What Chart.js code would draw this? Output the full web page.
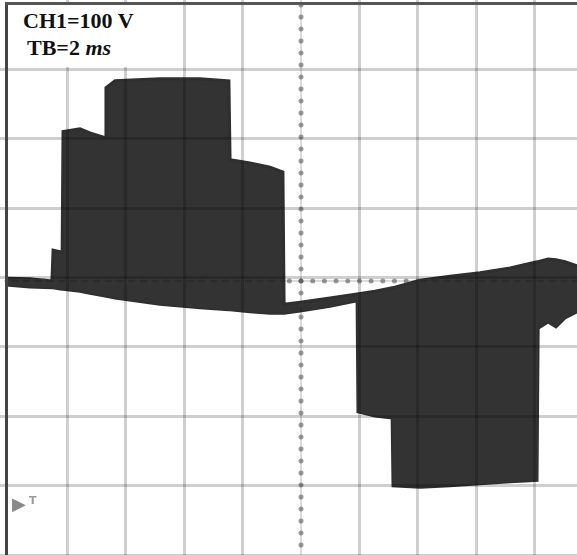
<!DOCTYPE html>
<html>
<head>
<meta charset="utf-8">
<script src="https://cdn.jsdelivr.net/npm/chart.js@4.4.1/dist/chart.umd.min.js"></script>
<style>
  html, body { margin: 0; padding: 0; background: #fff; }
  #wrap { position: relative; width: 577px; height: 555px; overflow: hidden; }
  #frameL { position: absolute; left: 5px; top: 2px; width: 3px; height: 553px; background: #444; }
  #frameT { position: absolute; left: 5px; top: 2px; width: 572px; height: 3px; background: #555; }
  #label { position: absolute; left: 8px; top: 5px; width: 163px; height: 62px; background: #fff; }
  .txt { position: absolute; font-family: "Liberation Serif", "Times New Roman", serif; font-weight: bold; font-size: 22px; line-height: 22px; color: #111; white-space: pre; }
  .gnd { position: absolute; left: 12px; top: 493px; font-family: "DejaVu Sans", sans-serif; font-size: 18px; color: #8a8a8a; }
  .gndT { position: absolute; left: 29px; top: 494px; font-family: "DejaVu Sans", sans-serif; font-weight: bold; font-size: 11px; color: #9a9a9a; }
</style>
</head>
<body>
<div id="wrap">
  <canvas id="scope"></canvas>
  <div id="label"></div>
  <div class="txt" style="left:23px; top:10px;">CH1=100 V</div>
  <div class="txt" style="left:27px; top:37px;">TB=2 <i>ms</i></div>
  <span class="gnd">▶</span><span class="gndT">T</span>
  <div id="frameL"></div>
  <div id="frameT"></div>
</div>
<script>
/* scope settings */
var msPerDiv = 2;
var voltsPerDiv = 100;

/* time of each sample (ms) and the top / bottom edge of the trace (V) */
var timeMs = [-0.10, 0.72, 1.47, 1.51, 1.82, 1.85, 2.43, 2.77, 3.29, 3.32, 3.63, 5.17,
              6.54, 7.53, 7.57, 8.25, 8.94, 9.38, 9.42, 9.97, 10.99, 11.92, 11.95, 12.53,
              13.12, 13.15, 14.08, 15.10, 16.13, 17.16, 18.08, 18.12, 18.46, 18.73, 19.04, 19.45];
var upperV = [4, 3, 0, 45, 42, 218, 222, 216, 209, 282, 292, 295,
              295, 292, 177, 172, 166, 159, -34, -31, -25, -19, -19, -15,
              -10, -10, 1, 7, 12, 19, 28, 28, 32, 31, 28, 22];
var lowerV = [-6, -9, -10, -10, -12, -12, -15, -18, -22, -22, -25, -34,
              -39, -42, -42, -45, -47, -47, -47, -44, -37, -29, -191, -197,
              -200, -299, -301, -299, -296, -293, -291, -69, -60, -67, -54, -45];

var toPoints = function (ys) {
  return timeMs.map(function (t, i) { return {x: t, y: ys[i]}; });
};

/* dotted centre cross of the graticule */
var centreLines = {
  id: 'centreLines',
  afterDatasetsDraw: function (chart) {
    var ctx = chart.ctx, a = chart.chartArea;
    var cx = chart.scales.x.getPixelForValue(5 * msPerDiv);
    var cy = chart.scales.y.getPixelForValue(0);
    ctx.save();
    ctx.strokeStyle = 'rgba(0,0,0,0.14)';
    ctx.lineWidth = 2;
    ctx.beginPath();
    ctx.moveTo(cx, a.top); ctx.lineTo(cx, a.bottom);
    ctx.moveTo(a.left + 4, cy); ctx.lineTo(a.right, cy);
    ctx.stroke();
    ctx.lineCap = 'round';
    ctx.lineWidth = 5;
    ctx.strokeStyle = 'rgba(60,60,60,0.5)';
    ctx.setLineDash([0, 12]);
    ctx.beginPath();
    ctx.moveTo(cx, cy); ctx.lineTo(cx, a.bottom - 10);
    ctx.moveTo(cx, cy); ctx.lineTo(cx, a.top);
    ctx.stroke();
    ctx.setLineDash([0, 11.68]);
    ctx.beginPath();
    ctx.moveTo(cx, cy); ctx.lineTo(a.right, cy);
    ctx.moveTo(cx, cy); ctx.lineTo(a.left + 6, cy);
    ctx.stroke();
    ctx.restore();
  }
};

var ctx1 = document.getElementById("scope").getContext("2d");
window.scope = new Chart(ctx1, {
  type: 'line',
  data: {
    datasets: [
      {
        data: toPoints(upperV),
        borderColor: '#2f2f2f',
        borderWidth: 3,
        backgroundColor: '#333333',
        fill: '+1',
        pointRadius: 0,
        tension: 0
      },
      {
        data: toPoints(lowerV),
        borderColor: '#2f2f2f',
        borderWidth: 3,
        fill: false,
        pointRadius: 0,
        tension: 0
      }
    ]
  },
  options: {
    animation: false,
    responsive: true,
    maintainAspectRatio: false,
    layout: { padding: 0 },
    plugins: {
      legend: { display: false },
      tooltip: { enabled: false }
    },
    scales: {
      x: {
        type: 'linear',
        min: -0.308,
        max: 19.45,
        border: { display: false },
        grid: {
          z: 1,
          lineWidth: 3,
          drawTicks: false,
          color: function (c) {
            var v = c.tick && c.tick.value;
            return (v === 0 || v === 5 * msPerDiv) ? 'rgba(0,0,0,0)' : 'rgba(0,0,0,0.19)';
          }
        },
        ticks: { display: false, stepSize: msPerDiv, includeBounds: false }
      },
      y: {
        type: 'linear',
        min: -400,
        max: 410,
        border: { display: false },
        grid: {
          z: 1,
          lineWidth: 3,
          drawTicks: false,
          color: function (c) {
            var v = c.tick && c.tick.value;
            return (v === 0 || v >= 4 * voltsPerDiv) ? 'rgba(0,0,0,0)' : 'rgba(0,0,0,0.19)';
          }
        },
        ticks: { display: false, stepSize: voltsPerDiv, includeBounds: false }
      }
    }
  },
  plugins: [centreLines]
});
</script>
</body>
</html>
